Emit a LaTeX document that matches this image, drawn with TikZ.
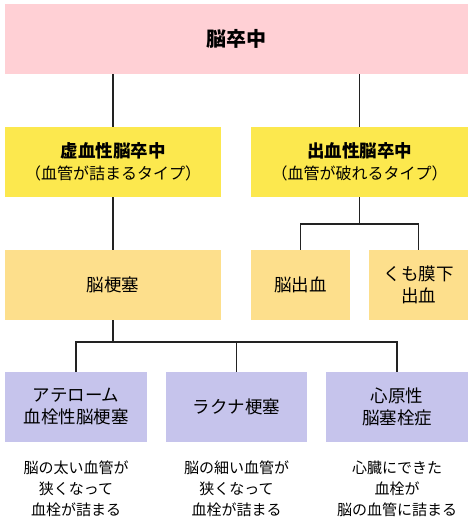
\documentclass[tikz,border=0pt]{standalone}
\usepackage{fontspec}
\setmainfont{Noto Sans CJK JP}
\definecolor{pinkbox}{HTML}{FFD0D5}
\definecolor{yellowbox}{HTML}{FCE84E}
\definecolor{orangebox}{HTML}{FDDF8C}
\definecolor{purplebox}{HTML}{C6C4EC}
\definecolor{linec}{HTML}{222222}
\begin{document}
\begin{tikzpicture}[x=1pt,y=-1pt,
  box/.style={draw=none, inner sep=0pt, align=center, minimum height=70pt},
  lbl/.style={font=\fontsize{17.5}{22}\selectfont},
  two/.style={font=\fontsize{16}{22}\selectfont},
  desc/.style={inner sep=0pt, align=center, font=\fontsize{15}{21}\selectfont},
  conn/.style={line width=1.1pt, draw=linec}]
\useasboundingbox (0,0) rectangle (474,524);
\fill[white] (0,0) rectangle (474,524);
% boxes
\node[box, fill=pinkbox, minimum width=463pt, font=\fontsize{20}{24}\selectfont\bfseries] (top) at (236.5,39) {脳卒中};
\node[box, two, fill=yellowbox, minimum width=216pt] (isch) at (113,162)
  {{\fontsize{17.5}{22}\selectfont\bfseries 虚血性脳卒中}\\（血管が詰まるタイプ）};
\node[box, two, fill=yellowbox, minimum width=217pt] (hem) at (359.5,162)
  {{\fontsize{17.5}{22}\selectfont\bfseries 出血性脳卒中}\\（血管が破れるタイプ）};
\node[box, lbl, fill=orangebox, minimum width=216pt] (inf) at (113,285) {脳梗塞};
\node[box, lbl, fill=orangebox, minimum width=99pt] (ich) at (300.5,285) {脳出血};
\node[box, lbl, fill=orangebox, minimum width=99pt] (sah) at (418.5,285) {くも膜下\\出血};
\node[box, lbl, fill=purplebox, minimum width=142pt] (ath) at (76,407) {アテローム\\血栓性脳梗塞};
\node[box, lbl, fill=purplebox, minimum width=141pt] (lac) at (236.5,407) {ラクナ梗塞};
\node[box, lbl, fill=purplebox, minimum width=142pt] (card) at (397,407) {心原性\\脳塞栓症};
% descriptions
\node[desc] (d1) at (76,489) {脳の太い血管が\\狭くなって\\血栓が詰まる};
\node[desc] (d2) at (236.5,489) {脳の細い血管が\\狭くなって\\血栓が詰まる};
\node[desc] (d3) at (397,489) {心臓にできた\\血栓が\\脳の血管に詰まる};
% connectors
\coordinate (jr) at (359.5,224);
\coordinate (jl) at (113,342);
\draw[conn] (isch.north) -- (isch.north |- top.south);
\draw[conn] (hem.north) -- (hem.north |- top.south);
\draw[conn] (isch.south) -- (inf.north);
\draw[conn] (hem.south) -- (jr);
\draw[conn] (ich.north) |- (jr) -| (sah.north);
\draw[conn] (inf.south) -- (jl);
\draw[conn] (ath.north) |- (jl) -| (card.north);
\draw[conn] (lac.north) -- (lac.north |- jl);
\end{tikzpicture}
\end{document}
